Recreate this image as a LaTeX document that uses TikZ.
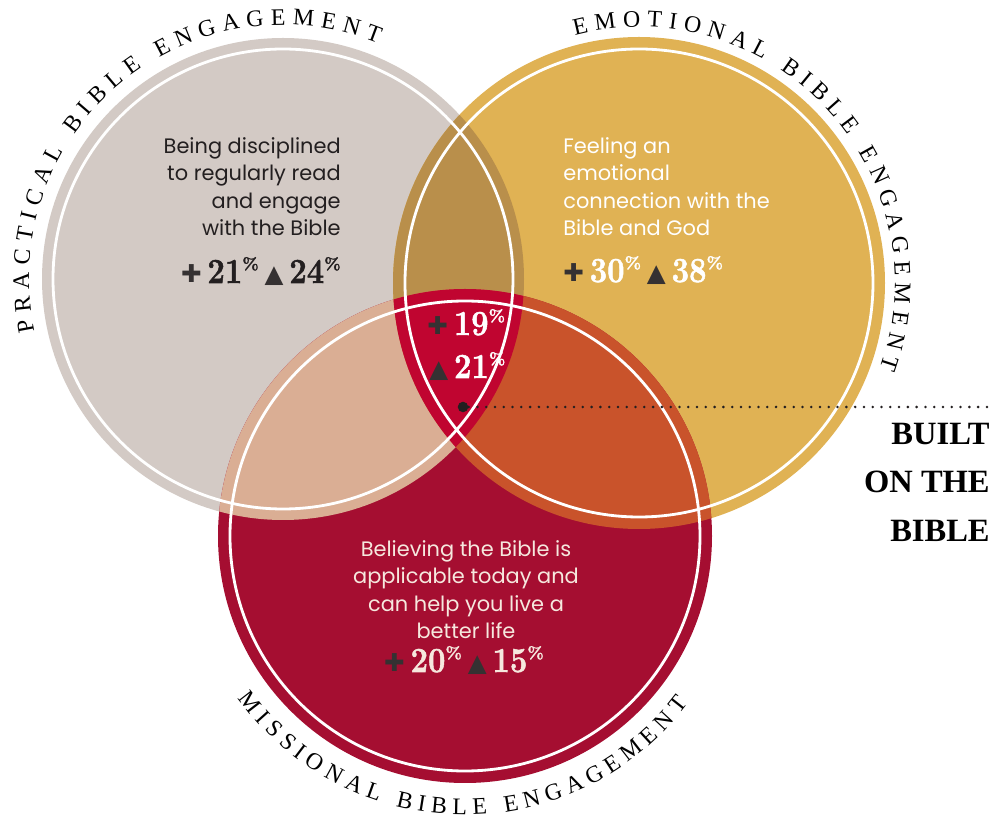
\documentclass[tikz,border=0pt]{standalone}
\usepackage{fontspec}
\usepackage{graphicx}
\setsansfont{Poppins}
\newfontfamily\arcfont{Liberation Serif}
\newfontfamily\symfont{DejaVu Sans}
\newfontfamily\numfont{Latin Modern Roman}[FakeBold=1.5]
\usetikzlibrary{decorations.text}

\definecolor{practicalgray}{HTML}{D3CAC5}
\definecolor{emotionalgold}{HTML}{E0B254}
\definecolor{missionalred}{HTML}{A50E31}
\definecolor{peMix}{HTML}{B98F4B}
\definecolor{pmMix}{HTML}{DAAE94}
\definecolor{emMix}{HTML}{C9532B}
\definecolor{coreRed}{HTML}{C00530}
\definecolor{inkdark}{HTML}{231F20}
\definecolor{markgray}{HTML}{353132}
\definecolor{cream}{HTML}{F6E8DE}

\newcommand{\plusmark}{{\symfont\fontsize{14}{14}\selectfont\color{markgray}✚}}
\newcommand{\trimark}{{\symfont\fontsize{14}{14}\selectfont\color{markgray}▲}}
\newcommand{\pct}[1]{\scalebox{0.88}[1]{#1}\raisebox{0.38em}{\fontsize{9.5}{9.5}\selectfont\%}}

\begin{document}
\begin{tikzpicture}[x=0.02cm, y=0.02cm,
    white_ring/.style={draw=white, line width=1.6pt},
    blurb_text/.style={font=\sffamily\fontsize{11.9}{15.6}\selectfont, inner sep=0pt},
    pct_text/.style={font=\numfont\bfseries\fontsize{20}{20}\selectfont, inner sep=0pt},
    arc_label/.style={decorate, decoration={text along path,
        text={|\arcfont\fontsize{13.5}{13.5}\selectfont|#1}, text align={fit to path}}}]
    \useasboundingbox (0,0) rectangle (992,819);

    \coordinate (practical) at (283,540);
    \coordinate (emotional) at (639,536);
    \coordinate (missional) at (465,283);

    % the three circles and their overlaps
    \fill[practicalgray] (practical) circle (241);
    \fill[emotionalgold] (emotional) circle (246);
    \fill[missionalred] (missional) circle (247);
    \begin{scope}
        \clip (practical) circle (241);
        \fill[peMix] (emotional) circle (246);
        \fill[pmMix] (missional) circle (247);
    \end{scope}
    \begin{scope}
        \clip (emotional) circle (246);
        \fill[emMix] (missional) circle (247);
        \clip (practical) circle (241);
        \fill[coreRed] (missional) circle (247);
    \end{scope}
    \draw[white_ring] (practical) circle (230);
    \draw[white_ring] (emotional) circle (234);
    \draw[white_ring] (missional) circle (235);

    % labels round the circles
    \path[arc_label={PRACTICAL BIBLE ENGAGEMENT}] ([shift={(192:254)}]practical) arc[start angle=192, end angle=68, radius=254];
    \path[arc_label={EMOTIONAL BIBLE ENGAGEMENT}] ([shift={(104.5:256)}]emotional) arc[start angle=104.5, end angle=-19.5, radius=256];
    \path[arc_label={MISSIONAL BIBLE ENGAGEMENT}] ([shift={(215.6:279)}]missional) arc[start angle=215.6, end angle=323.1, radius=279];

    \node[blurb_text, text=inkdark, align=right, anchor=north east] (practical_text) at (341,682) {Being disciplined\\to regularly read\\and engage\\with the Bible};
    \node[pct_text, text=inkdark, anchor=base east] (practical_pct) at (341,536) {\plusmark\,\pct{21}\,\trimark\,\pct{24}};

    \node[blurb_text, text=white, align=left, anchor=north west] (emotional_text) at (563,682) {Feeling an\\emotional\\connection with the\\Bible and God};
    \node[pct_text, text=white, anchor=base west] (emotional_pct) at (563,537) {\plusmark\,\pct{30}\,\trimark\,\pct{38}};

    \node[blurb_text, text=cream, align=center, anchor=north] (missional_text) at (466,279) {Believing the Bible is\\applicable today and\\can help you live a\\better life};
    \node[pct_text, text=cream, anchor=base] (missional_pct) at (464,147) {\plusmark\,\pct{20}\,\trimark\,\pct{15}};

    \node[pct_text, text=white, anchor=base west] (core_plus) at (427,484) {\plusmark\,\pct{19}};
    \node[pct_text, text=white, anchor=base west] (core_tri) at (429,441) {\trimark\,\pct{21}};

    \node[circle, fill=inkdark, inner sep=0pt, minimum size=6pt] (core_dot) at (463,412) {};
    \coordinate (line_end) at (992,412);
    \draw[inkdark, line width=1.6pt, line cap=round, dash pattern=on 0pt off 5pt] (core_dot) -- (line_end);

    \node[font=\arcfont\bfseries\fontsize{18.5}{27.5}\selectfont, align=right, anchor=north east, inner sep=0pt] (built_label) at (990,396) {BUILT\\ON THE\\BIBLE};
\end{tikzpicture}
\end{document}
